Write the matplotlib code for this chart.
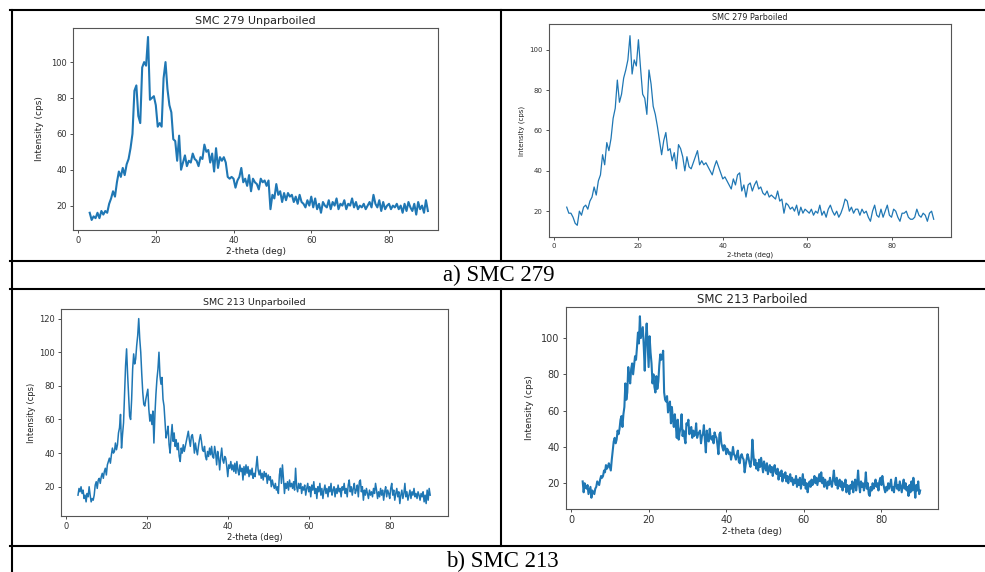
import numpy as np
import matplotlib.pyplot as plt
from matplotlib.lines import Line2D

# XRD scans, 2-theta from 3 to 90 deg
# SMC 279, 0.5 deg step
smc279_unpar = [
    16, 12, 14, 13, 16, 13, 17, 15, 17, 16,
    21, 24, 28, 25, 33, 39, 36, 41, 37, 43,
    46, 52, 60, 84, 87, 70, 66, 97, 100, 98,
    114, 79, 80, 81, 76, 64, 66, 64, 91, 100,
    85, 76, 72, 57, 56, 45, 59, 40, 44, 48,
    42, 45, 44, 49, 46, 45, 42, 47, 46, 54,
    50, 51, 44, 49, 39, 52, 41, 47, 45, 47,
    44, 36, 35, 36, 35, 30, 34, 36, 41, 33,
    35, 31, 37, 28, 35, 33, 32, 29, 35, 33,
    34, 31, 34, 18, 26, 24, 32, 26, 28, 22,
    27, 23, 27, 25, 26, 22, 25, 21, 26, 22,
    21, 19, 23, 20, 25, 19, 24, 18, 21, 16,
    22, 20, 19, 23, 18, 22, 20, 24, 18, 21,
    20, 23, 18, 21, 20, 24, 19, 22, 18, 20,
    19, 21, 18, 20, 22, 19, 26, 21, 19, 23,
    17, 22, 18, 20, 21, 18, 20, 19, 21, 18,
    20, 16, 21, 17, 22, 19, 17, 21, 15, 22,
    18, 20, 16, 23, 17,
]
smc279_par = [
    22, 19, 19, 17, 14, 13, 20, 18, 22, 23,
    21, 25, 27, 32, 28, 35, 38, 48, 43, 54,
    50, 56, 66, 71, 85, 74, 78, 86, 90, 95,
    107, 88, 95, 92, 105, 91, 78, 76, 68, 90,
    83, 72, 68, 62, 55, 48, 55, 59, 50, 51,
    45, 49, 41, 53, 51, 47, 40, 47, 42, 41,
    44, 47, 50, 43, 45, 43, 44, 42, 40, 38,
    42, 45, 42, 39, 36, 37, 35, 33, 31, 36,
    33, 38, 39, 30, 33, 27, 33, 34, 30, 33,
    35, 31, 32, 29, 28, 30, 27, 28, 27, 26,
    30, 25, 26, 19, 24, 23, 21, 22, 20, 23,
    18, 22, 19, 21, 20, 19, 21, 18, 20, 19,
    23, 18, 20, 17, 21, 23, 20, 18, 20, 17,
    19, 22, 26, 25, 20, 22, 19, 21, 21, 18,
    21, 19, 20, 17, 15, 20, 23, 18, 17, 21,
    17, 20, 23, 18, 17, 21, 20, 17, 15, 19,
    19, 20, 17, 16, 16, 17, 21, 18, 17, 19,
    18, 15, 19, 20, 16,
]
# SMC 213, 0.25 deg step
smc213_unpar = [
    15, 19, 17, 20, 16, 18, 13, 15, 11, 16, 14, 20, 15, 11, 13, 12, 15, 21, 23, 19,
    24, 25, 22, 26, 28, 25, 29, 31, 27, 33, 35, 37, 34, 39, 43, 40, 41, 46, 42, 45,
    52, 55, 63, 43, 51, 58, 75, 92, 102, 87, 75, 62, 60, 72, 90, 99, 93, 96, 104, 110,
    120, 108, 100, 87, 76, 69, 68, 72, 75, 78, 66, 59, 63, 57, 65, 46, 63, 75, 84, 90,
    100, 86, 81, 85, 72, 68, 58, 49, 52, 56, 45, 40, 50, 57, 47, 52, 44, 48, 42, 46,
    38, 35, 43, 40, 45, 41, 44, 47, 50, 53, 48, 44, 50, 51, 47, 40, 46, 42, 39, 44,
    48, 51, 47, 42, 41, 44, 38, 36, 41, 38, 43, 39, 44, 38, 37, 44, 40, 33, 41, 37,
    30, 38, 43, 36, 34, 38, 37, 32, 26, 33, 31, 35, 30, 33, 29, 34, 28, 35, 30, 27,
    33, 29, 31, 24, 32, 27, 33, 28, 32, 26, 30, 27, 31, 25, 28, 26, 32, 38, 30, 27,
    30, 25, 28, 24, 29, 26, 28, 22, 27, 24, 26, 20, 24, 21, 19, 22, 18, 20, 16, 27,
    31, 22, 33, 25, 16, 22, 19, 23, 18, 24, 20, 22, 19, 23, 18, 31, 20, 17, 22, 19,
    22, 16, 20, 18, 21, 15, 19, 22, 17, 20, 14, 21, 18, 23, 16, 19, 13, 20, 17, 22,
    15, 19, 13, 18, 21, 16, 19, 14, 20, 17, 22, 15, 18, 20, 14, 19, 16, 21, 17, 19,
    14, 20, 18, 22, 16, 19, 14, 21, 24, 17, 20, 15, 19, 22, 16, 18, 21, 14, 23, 24,
    17, 20, 12, 18, 15, 19, 16, 13, 18, 15, 17, 14, 19, 16, 22, 18, 13, 17, 14, 19,
    15, 18, 12, 17, 20, 14, 18, 16, 13, 19, 22, 15, 18, 12, 16, 19, 14, 17, 10, 15,
    18, 13, 16, 22, 14, 17, 12, 15, 18, 13, 17, 15, 19, 14, 16, 13, 17, 15, 12, 16,
    14, 17, 11, 15, 10, 18, 12, 19, 15,
]
smc213_par = [
    21, 15, 20, 18, 17, 19, 14, 16, 18, 12, 16, 15, 14, 17, 18, 21, 20, 19, 22, 24,
    23, 24, 27, 26, 30, 28, 29, 31, 29, 27, 33, 38, 43, 45, 42, 44, 49, 47, 50, 55,
    57, 51, 58, 62, 75, 66, 70, 84, 78, 75, 83, 86, 80, 85, 90, 88, 95, 103, 97, 112,
    100, 103, 106, 95, 82, 99, 108, 96, 84, 101, 92, 86, 75, 80, 73, 70, 79, 72, 76, 85,
    91, 88, 90, 93, 70, 66, 65, 68, 59, 63, 65, 53, 62, 55, 51, 58, 52, 45, 55, 44,
    48, 51, 58, 46, 49, 45, 42, 53, 52, 55, 47, 50, 51, 45, 49, 46, 47, 53, 45, 47,
    48, 49, 42, 46, 47, 52, 44, 37, 49, 44, 43, 50, 45, 44, 46, 42, 48, 46, 45, 41,
    36, 47, 48, 42, 40, 38, 41, 40, 36, 39, 38, 36, 37, 33, 36, 40, 36, 35, 33, 36,
    38, 32, 31, 35, 36, 34, 33, 26, 30, 33, 36, 34, 31, 29, 33, 44, 36, 30, 33, 28,
    31, 27, 33, 29, 34, 30, 26, 32, 29, 27, 31, 25, 28, 30, 26, 29, 24, 28, 30, 26,
    25, 28, 22, 26, 24, 27, 21, 25, 23, 26, 21, 24, 20, 23, 25, 21, 23, 19, 22, 20,
    24, 18, 22, 19, 23, 17, 21, 25, 19, 22, 17, 20, 15, 19, 21, 18, 22, 19, 21, 24,
    20, 23, 19, 22, 25, 21, 26, 20, 23, 18, 22, 20, 17, 21, 19, 23, 20, 18, 22, 27,
    21, 19, 23, 17, 20, 22, 18, 21, 16, 20, 18, 22, 15, 19, 17, 14, 19, 17, 21, 15,
    19, 22, 16, 20, 27, 19, 15, 21, 18, 20, 16, 19, 26, 17, 20, 14, 13, 18, 16, 20,
    17, 19, 22, 18, 20, 16, 21, 23, 19, 24, 20, 17, 15, 18, 16, 20, 17, 19, 22, 16,
    18, 15, 20, 23, 17, 19, 16, 21, 18, 15, 19, 22, 17, 20, 16, 18, 13, 19, 15, 21,
    16, 23, 18, 12, 19, 16, 21, 14, 16,
]

titles = ['SMC 279 Unparboiled', 'SMC 279 Parboiled',
          'SMC 213 Unparboiled', 'SMC 213 Parboiled']
captions = ['a) SMC 279', 'b) SMC 213']

W, H = 985, 572


def box(left, top, right, bottom):
    # pixel box of the reference -> figure fraction
    return [left / W, 1 - bottom / H, (right - left) / W, (bottom - top) / H]


panels = [
    # data, title, axes box, xlim, ylim, line width, title/tick/label font sizes, ylabel pad
    (smc279_unpar, titles[0], box(73, 28, 438, 230), (-1.3, 92.6), (6.4, 119), 1.5, 8.0, 6.0, 6.5, 5),
    (smc279_par, titles[1], box(549, 24, 951, 237), (-1.2, 94.1), (7.2, 112.8), 0.9, 5.8, 5.0, 5.0, 3),
    (smc213_unpar, titles[2], box(61, 309, 448, 516), (-1.2, 94.4), (2.6, 125.7), 1.1, 6.8, 6.0, 6.0, 2),
    (smc213_par, titles[3], box(566, 307, 938, 509), (-1.3, 94.6), (5.8, 117.1), 1.5, 8.5, 7.0, 6.5, 5),
]

fig = plt.figure(figsize=(9.85, 5.72), dpi=100)

for y, title, pos, xl, yl, lw, fs_t, fs_k, fs_l, ypad in panels:
    ax = fig.add_axes(pos)
    x = np.linspace(3, 90, len(y))
    ax.plot(x, y, color='#1f77b4', lw=lw)
    ax.set_xlim(*xl)
    ax.set_ylim(*yl)
    ax.set_title(title, fontsize=fs_t, pad=3, color='#222222')
    ax.set_xlabel('2-theta (deg)', fontsize=fs_l, labelpad=1.5, color='#222222')
    ax.set_ylabel('Intensity (cps)', fontsize=fs_l, labelpad=ypad, color='#222222')
    ax.tick_params(labelsize=fs_k, length=2.5, width=0.6, pad=2, colors='#333333')
    for s in ax.spines.values():
        s.set_color('#555555')
        s.set_linewidth(0.8)


# table rules around the panels
def hline(y, x0=10, x1=985):
    fig.add_artist(Line2D([x0 / W, x1 / W], [1 - y / H, 1 - y / H],
                          transform=fig.transFigure, color='black', lw=1.5))


def vline(x, y0, y1):
    fig.add_artist(Line2D([x / W, x / W], [1 - y0 / H, 1 - y1 / H],
                          transform=fig.transFigure, color='black', lw=1.5))


hline(10)
hline(261)
hline(289)
hline(546)
vline(11.5, 10, 572)
vline(501, 10, 261)
vline(501, 289, 546)

fig.text(499 / W, 1 - 275 / H, captions[0], ha='center', va='center',
         fontsize=16.5, family='Liberation Serif')
fig.text(502 / W, 1 - 561 / H, captions[1], ha='center', va='center',
         fontsize=16.5, family='Liberation Serif')

fig.savefig('out.png', dpi=100)
